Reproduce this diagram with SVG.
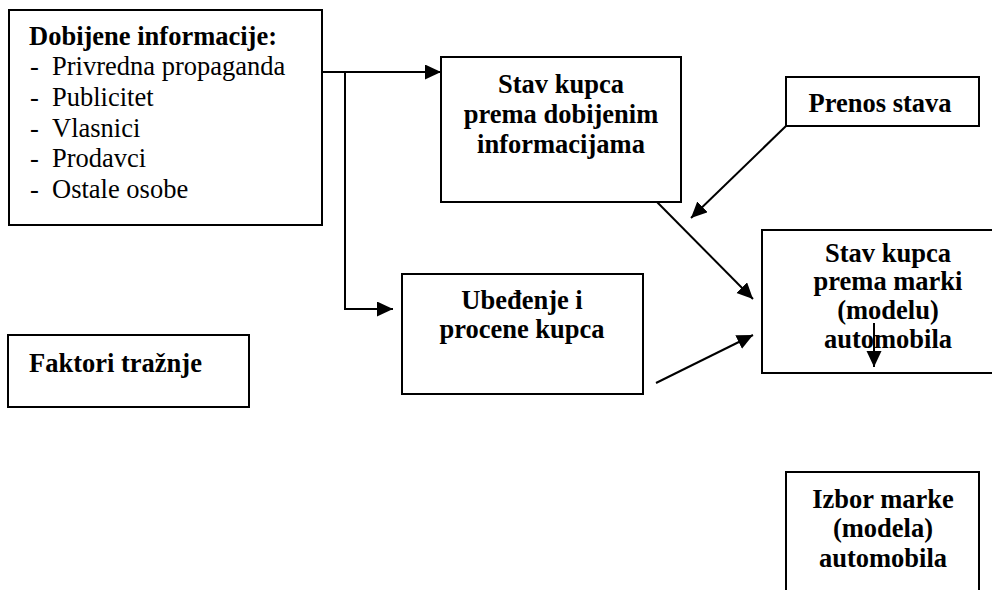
<svg xmlns="http://www.w3.org/2000/svg" width="992" height="590" viewBox="0 0 992 590">
<style>
.box{fill:#fff;stroke:#000;stroke-width:2}
text{font-family:'Liberation Serif','Times New Roman',serif;font-size:26.5px;fill:#000}
.b{font-weight:bold}
.c{text-anchor:middle}
.ln{fill:none;stroke:#000;stroke-width:2}
</style>
<defs>
<marker id="ah" markerUnits="userSpaceOnUse" markerWidth="17" markerHeight="16" refX="16" refY="7.5" orient="auto">
<path d="M0,0 L16,7.5 L0,15 z" fill="#000"/>
</marker>
</defs>
<rect width="992" height="590" fill="#fff"/>
<g id="dobijene">
<rect class="box" x="9" y="10" width="313" height="215"/>
<text class="b" x="29" y="45">Dobijene informacije:</text>
<text x="30" y="75">-</text><text x="52" y="75">Privredna propaganda</text>
<text x="30" y="106">-</text><text x="52" y="106">Publicitet</text>
<text x="30" y="137">-</text><text x="52" y="137">Vlasnici</text>
<text x="30" y="167">-</text><text x="52" y="167">Prodavci</text>
<text x="30" y="198">-</text><text x="52" y="198">Ostale osobe</text>
</g>
<g id="stav-info">
<rect class="box" x="441" y="57" width="240" height="145"/>
<text class="b c" x="561" y="93">Stav kupca</text>
<text class="b c" x="561" y="123">prema dobijenim</text>
<text class="b c" x="561" y="153">informacijama</text>
</g>
<g id="prenos">
<rect class="box" x="786" y="77" width="193" height="49"/>
<text class="b c" x="880" y="112">Prenos stava</text>
</g>
<g id="ubedjenje">
<rect class="box" x="402" y="274" width="241" height="120"/>
<text class="b c" x="522" y="309">Ubeđenje i</text>
<text class="b c" x="522" y="338">procene kupca</text>
</g>
<g id="stav-marka">
<rect class="box" x="762" y="230" width="254" height="143"/>
<text class="b c" x="888" y="262">Stav kupca</text>
<text class="b c" x="888" y="290">prema marki</text>
<text class="b c" x="888" y="319">(modelu)</text>
<text class="b c" x="888" y="348">automobila</text>
</g>
<g id="faktori">
<rect class="box" x="8" y="335" width="241" height="72"/>
<text class="b" x="29" y="372">Faktori tražnje</text>
</g>
<g id="izbor">
<rect class="box" x="786" y="472" width="193" height="140"/>
<text class="b c" x="883" y="508">Izbor marke</text>
<text class="b c" x="883" y="537">(modela)</text>
<text class="b c" x="883" y="567">automobila</text>
</g>
<g id="connectors">
<line class="ln" x1="322" y1="72" x2="441" y2="72" marker-end="url(#ah)"/>
<polyline class="ln" points="345,72 345,309 393,309" marker-end="url(#ah)"/>
<line class="ln" x1="657" y1="202" x2="753" y2="299" marker-end="url(#ah)"/>
<line class="ln" x1="786" y1="126" x2="691" y2="218" marker-end="url(#ah)"/>
<line class="ln" x1="656" y1="383" x2="753" y2="335" marker-end="url(#ah)"/>
<line class="ln" x1="874" y1="323" x2="874" y2="367" marker-end="url(#ah)"/>
</g>
</svg>
